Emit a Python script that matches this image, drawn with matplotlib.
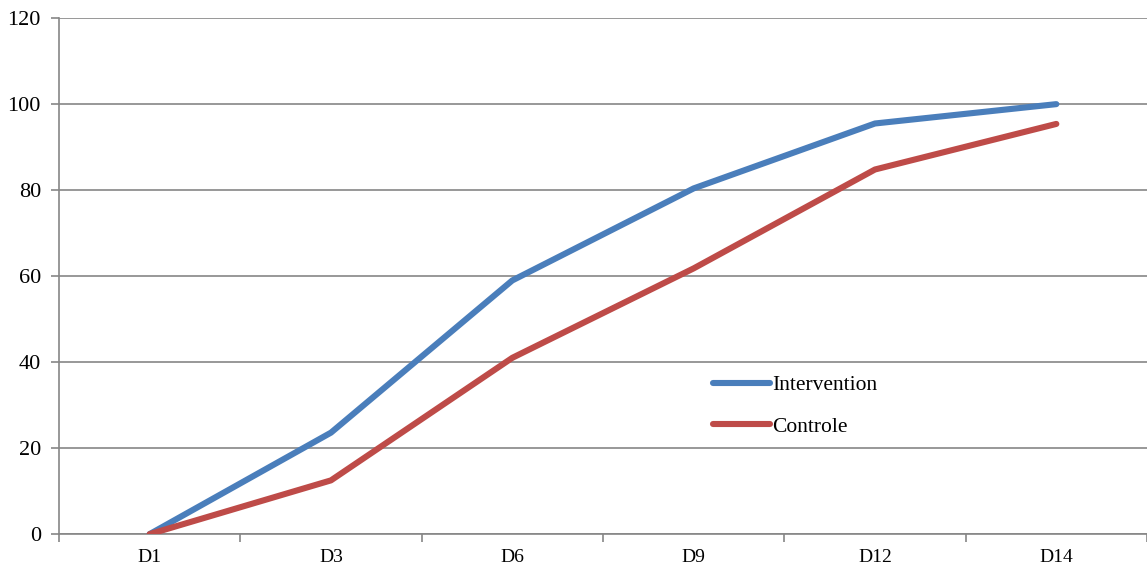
import matplotlib
matplotlib.use('Agg')
import matplotlib.pyplot as plt
import numpy as np

days = ['D1', 'D3', 'D6', 'D9', 'D12', 'D14']
intervention = [0, 23.6, 59, 80.4, 95.5, 100]
controle = [0, 12.5, 41, 61.8, 84.8, 95.4]

plt.rcParams['font.family'] = ['Liberation Serif', 'DejaVu Serif']

fig = plt.figure(figsize=(11.47, 5.67), dpi=100)
ax = fig.add_axes([0.0514, 0.058, 0.9486, 0.91])

grid_col = '#868686'
x = np.arange(len(days))
ax.plot(x, intervention, color='#4A7EBB', lw=4.4, solid_capstyle='round', label='Intervention', zorder=3)
ax.plot(x, controle, color='#BE4B48', lw=4.4, solid_capstyle='round', label='Controle', zorder=3)

ax.set_xlim(-0.5, len(days) - 0.5)
ax.set_ylim(0, 120)
ax.set_yticks(range(0, 121, 20))
ax.yaxis.grid(True, color=grid_col, lw=1.2)
ax.set_axisbelow(True)

# category labels centred, tick marks between categories
ax.set_xticks(x)
ax.set_xticklabels(days, fontsize=14)
ax.tick_params(axis='x', which='major', length=0, pad=11)
ax.set_xticks(np.arange(-0.5, len(days)), minor=True)
ax.tick_params(axis='x', which='minor', length=6, color=grid_col, width=1.2, direction='out')
ax.tick_params(axis='y', labelsize=16, length=6, color=grid_col, width=1.2, pad=7)

for s in ['top', 'right']:
    ax.spines[s].set_visible(False)
for s in ['left', 'bottom']:
    ax.spines[s].set_color(grid_col)
    ax.spines[s].set_linewidth(1.2)

ax.legend(loc='upper left', bbox_to_anchor=(0.601, 0.308), frameon=False, fontsize=15.5,
          handlelength=2.65, handletextpad=0.1, labelspacing=1.0,
          borderpad=0, borderaxespad=0)

fig.savefig('out.png', dpi=100, facecolor='white')
